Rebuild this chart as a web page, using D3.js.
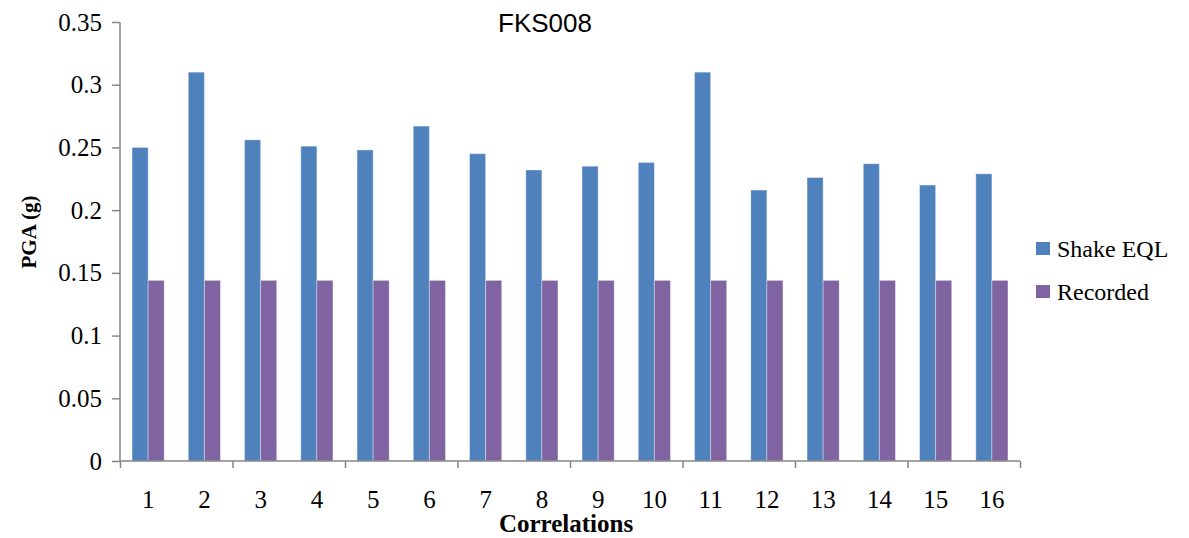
<!DOCTYPE html>
<html>
<head>
<meta charset="utf-8">
<script src="https://cdn.jsdelivr.net/npm/d3@7"></script>
<style>
  body { margin: 0; background: #fff; }
  svg { display: block; }
  .tick text { font-family: "Liberation Serif", "Times New Roman", serif; font-size: 25px; fill: #000; }
  .axis path, .axis line { stroke: #868686; stroke-width: 1.5; }
</style>
</head>
<body>
<div id="chart"></div>
<script>
  // chart data
  var categories = ["1", "2", "3", "4", "5", "6", "7", "8", "9", "10", "11", "12", "13", "14", "15", "16"];
  var shakeEql = [0.250, 0.310, 0.256, 0.251, 0.248, 0.267, 0.245, 0.232, 0.235, 0.238, 0.310, 0.216, 0.226, 0.237, 0.220, 0.229];
  var recorded = [0.144, 0.144, 0.144, 0.144, 0.144, 0.144, 0.144, 0.144, 0.144, 0.144, 0.144, 0.144, 0.144, 0.144, 0.144, 0.144];
  var seriesNames = ["Shake EQL", "Recorded"];
  var seriesColors = ["#4F81BD", "#8064A2"];
  var yTicks = [0, 0.05, 0.1, 0.15, 0.2, 0.25, 0.3, 0.35];

  var W = 1189, H = 538;
  var padl = 120, padr = 169, padt = 22, padb = 77;
  var w = W - padl - padr, h = H - padt - padb;

  var svg = d3.select("#chart").append("svg").attr("width", W).attr("height", H);
  var vis = svg.append("g").attr("transform", "translate(" + padl + "," + padt + ")");

  var x = d3.scaleBand().domain(categories).range([0, w]);
  var y = d3.scaleLinear().domain([0, 0.35]).range([h, 0]);
  // Excel style: gap width 150% => each bar = band / 3.5
  var barW = x.bandwidth() / 3.5;
  var series = [shakeEql, recorded];

  // y axis
  var yAxis = d3.axisLeft(y).tickValues(yTicks).tickSize(8).tickPadding(10)
    .tickFormat(function(d) { return d === 0 ? "0" : d3.format("")(+d.toFixed(2)); });
  var yax = vis.append("g").attr("class", "axis y").call(yAxis);
  yax.select(".domain").attr("d", "M0," + h + "V0");
  yax.selectAll(".tick text").attr("dy", "0.32em");

  // bars
  series.forEach(function(vals, si) {
    vis.selectAll("rect.s" + si).data(vals).enter().append("rect")
      .attr("class", "s" + si)
      .attr("x", function(d, i) { return x(categories[i]) + 0.75 * barW + si * barW; })
      .attr("y", function(d) { return y(d); })
      .attr("width", barW)
      .attr("height", function(d) { return h - y(d); })
      .attr("fill", seriesColors[si])
      .attr("stroke", "rgba(255,255,255,0.35)")
      .attr("stroke-width", 1);
  });

  // x axis: ticks on every second category boundary
  var xb = d3.scaleLinear().domain([0, categories.length]).range([0, w]);
  var xAxisTicks = d3.axisBottom(xb).tickValues(d3.range(0, categories.length + 1, 2)).tickSize(7).tickFormat("");
  var xax = vis.append("g").attr("class", "axis x").attr("transform", "translate(0," + h + ")").call(xAxisTicks);
  xax.select(".domain").attr("d", "M0,0H" + w);
  var xLab = d3.axisBottom(x).tickSize(0).tickPadding(29);
  var xl = vis.append("g").attr("transform", "translate(0," + h + ")").call(xLab);
  xl.select(".domain").remove();

  // titles
  svg.append("text").attr("x", 545).attr("y", 32).attr("text-anchor", "middle")
    .style("font-family", "'Liberation Sans', Arial, sans-serif").style("font-size", "26px")
    .text("FKS008");
  svg.append("text").attr("x", 566).attr("y", 532).attr("text-anchor", "middle")
    .style("font-family", "'Liberation Serif', 'Times New Roman', serif").style("font-size", "25px").style("font-weight", "bold")
    .text("Correlations");
  svg.append("text").attr("transform", "translate(36,232) rotate(-90)").attr("text-anchor", "middle")
    .style("font-family", "'Liberation Serif', 'Times New Roman', serif").style("font-size", "21px").style("font-weight", "bold")
    .text("PGA (g)");

  // legend
  var legend = svg.append("g").attr("transform", "translate(1036,242)");
  var items = legend.selectAll("g").data(seriesNames).enter().append("g")
    .attr("transform", function(d, i) { return "translate(0," + (i * 43) + ")"; });
  items.append("rect").attr("width", 14).attr("height", 13)
    .attr("fill", function(d, i) { return seriesColors[i]; });
  items.append("text").attr("x", 21).attr("y", 15)
    .style("font-family", "'Liberation Serif', 'Times New Roman', serif").style("font-size", "24px")
    .text(function(d) { return d; });
</script>
</body>
</html>
